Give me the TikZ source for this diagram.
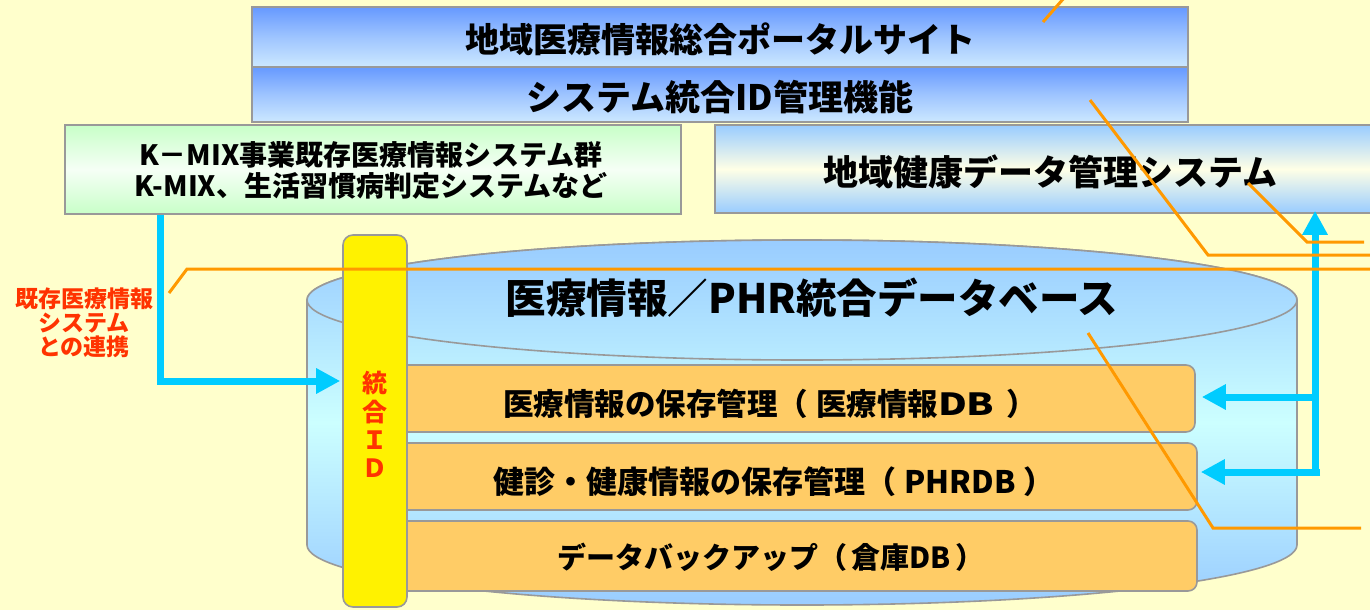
\documentclass[tikz,border=0pt]{standalone}
\usepackage{fontspec}
\usepackage{graphicx}
\newfontfamily\jp{Noto Sans CJK JP}
\usetikzlibrary{arrows.meta}
\definecolor{bg}{HTML}{FFFFCC}
\definecolor{edge}{HTML}{999999}
\definecolor{portaltop}{HTML}{6699FF}
\definecolor{portalbot}{HTML}{CCE8FF}
\definecolor{skyb}{HTML}{99CCFF}
\definecolor{paley}{HTML}{FFFFE6}
\definecolor{greenb}{HTML}{C8FFC8}
\definecolor{greenm}{HTML}{F6FFF6}
\definecolor{cyanl}{HTML}{CCFFFF}
\definecolor{orangebox}{HTML}{FFCC66}
\definecolor{orangeln}{HTML}{FF9900}
\definecolor{arrowblue}{HTML}{00CCFF}
\definecolor{redtxt}{HTML}{FF3300}
\tikzset{
  box/.style={draw=edge, line width=1.6pt, inner sep=0pt},
  jpfont/.style={font=\jp\bfseries\fontsize{#1}{#1}\selectfont},
  storebox/.style={box, fill=orangebox, rounded corners=9pt, minimum height=#1},
  blu/.style={draw=arrowblue, line width=7pt, -{Triangle[length=24pt,width=24pt]}},
  ora/.style={draw=orangeln, line width=3pt},
}
\begin{document}
\begin{tikzpicture}[x=1pt,y=-1pt]
\fill[bg] (0,0) rectangle (1370,610);
\useasboundingbox (0,0) rectangle (1370,610);

% top boxes
\node[box, top color=portaltop, bottom color=portalbot, middle color=portaltop!45!portalbot,
  minimum width=936pt, minimum height=60pt] (portal) at (720,37) {};
\node[jpfont=34] (portaltxt) at (720,39) {地域医療情報総合ポータルサイト};
\node[box, top color=portaltop, bottom color=portalbot, middle color=portaltop!45!portalbot,
  minimum width=936pt, minimum height=55pt] (idm) at (720,94.5) {};
\node[jpfont=35] (idmtxt) at (720,97) {システム統合ID管理機能};

% existing systems
\node[box, top color=greenb, bottom color=greenb, middle color=greenm,
  minimum width=616pt, minimum height=89pt] (kmix) at (373,169.5) {};
\node[align=center, jpfont=28] (kmixtxt) at (371,170)
  {K－MIX事業既存医療情報システム群\\[3pt]K-MIX、生活習慣病判定システムなど};

% regional health data system
\node[box, top color=skyb, bottom color=skyb, middle color=paley,
  minimum width=660pt, minimum height=88pt] (health) at (1045,169) {};
\node[jpfont=35] (healthtxt) at (1050,172) {地域健康データ管理システム};

% cylinder
\shade[top color=skyb, bottom color=skyb, middle color=cyanl, draw=edge, line width=1.6pt]
  (307,300) -- (307,545) arc[start angle=180, end angle=0, x radius=495, y radius=60]
  -- (1297,300) arc[start angle=0, end angle=-180, x radius=495, y radius=60] -- cycle;
\shade[top color=skyb, bottom color=cyanl!60!skyb, draw=edge, line width=1.6pt]
  (802,300) ellipse[x radius=495, y radius=60];
\node[jpfont=40.5] (dbtitle) at (812,298) {医療情報／PHR統合データベース};

% storage boxes
\node[storebox=67pt, minimum width=800pt] (s1) at (795,398.5) {};
\node[storebox=67pt, minimum width=802pt] (s2) at (796,476.5) {};
\node[storebox=70pt, minimum width=802pt] (s3) at (796,556) {};
\node[jpfont=30.5] (s1t) at (770,404) {医療情報の保存管理（\hspace{8pt}医療情報\scalebox{1.3}[1]{DB}\hspace{12pt}）};
\node[jpfont=31] (s2t) at (774,482) {健診・健康情報の保存管理（\hspace{8pt}PHRDB\hspace{8pt}）};
\node[jpfont=29] (s3t) at (771,557) {データバックアップ（\hspace{4pt}倉庫DB\hspace{4pt}）};

% unified ID bar
\node[box, fill=yellow, rounded corners=10pt, minimum width=64pt, minimum height=372pt] (bar) at (375,421) {};
\node[jpfont=25, text=redtxt, align=center] (bartxt) at (375,424)
  {統\\[4pt]合\\[3pt]Ｉ\\[3pt]Ｄ};

% left label
\node[jpfont=23, text=redtxt, align=center] (link) at (84,323)
  {既存医療情報\\[1pt]システム\\[1pt]との連携};

% blue arrows
\coordinate (a1) at (160,381);
\draw[blu] (kmix.south -| a1) -- (a1) -- ([xshift=-2pt]bar.west |- a1);
\coordinate (j1) at (1315,397);
\coordinate (j2) at (1320,472);
\coordinate (j0) at (1315,476);
\draw[blu] (j0) -- ([yshift=3pt]health.south -| j0);
\draw[blu] (j1) -- ([xshift=6pt]s1.east |- j1);
\draw[blu] (j2) -- ([xshift=3pt]s2.east |- j2);

% orange leader lines
\coordinate (o1a) at (1043,22);
\coordinate (o1b) at (1064,-2);
\draw[ora] (o1a) -- (o1b);
\coordinate (o2a) at (1090,100);
\coordinate (o2b) at (1208,255);
\coordinate (o2c) at (1372,255);
\draw[ora] (o2a) -- (o2b) -- (o2c);
\coordinate (o3a) at (1248,183);
\coordinate (o3b) at (1307,242);
\coordinate (o3c) at (1364,242);
\draw[ora] (o3a) -- (o3b) -- (o3c);
\coordinate (o4a) at (169,293);
\coordinate (o4b) at (187,269);
\coordinate (o4c) at (1372,269);
\draw[ora] (o4a) -- (o4b) -- (o4c);
\coordinate (o5a) at (1088,333);
\coordinate (o5b) at (1213,528);
\coordinate (o5c) at (1361,528);
\draw[ora] (o5a) -- (o5b) -- (o5c);
\end{tikzpicture}
\end{document}
